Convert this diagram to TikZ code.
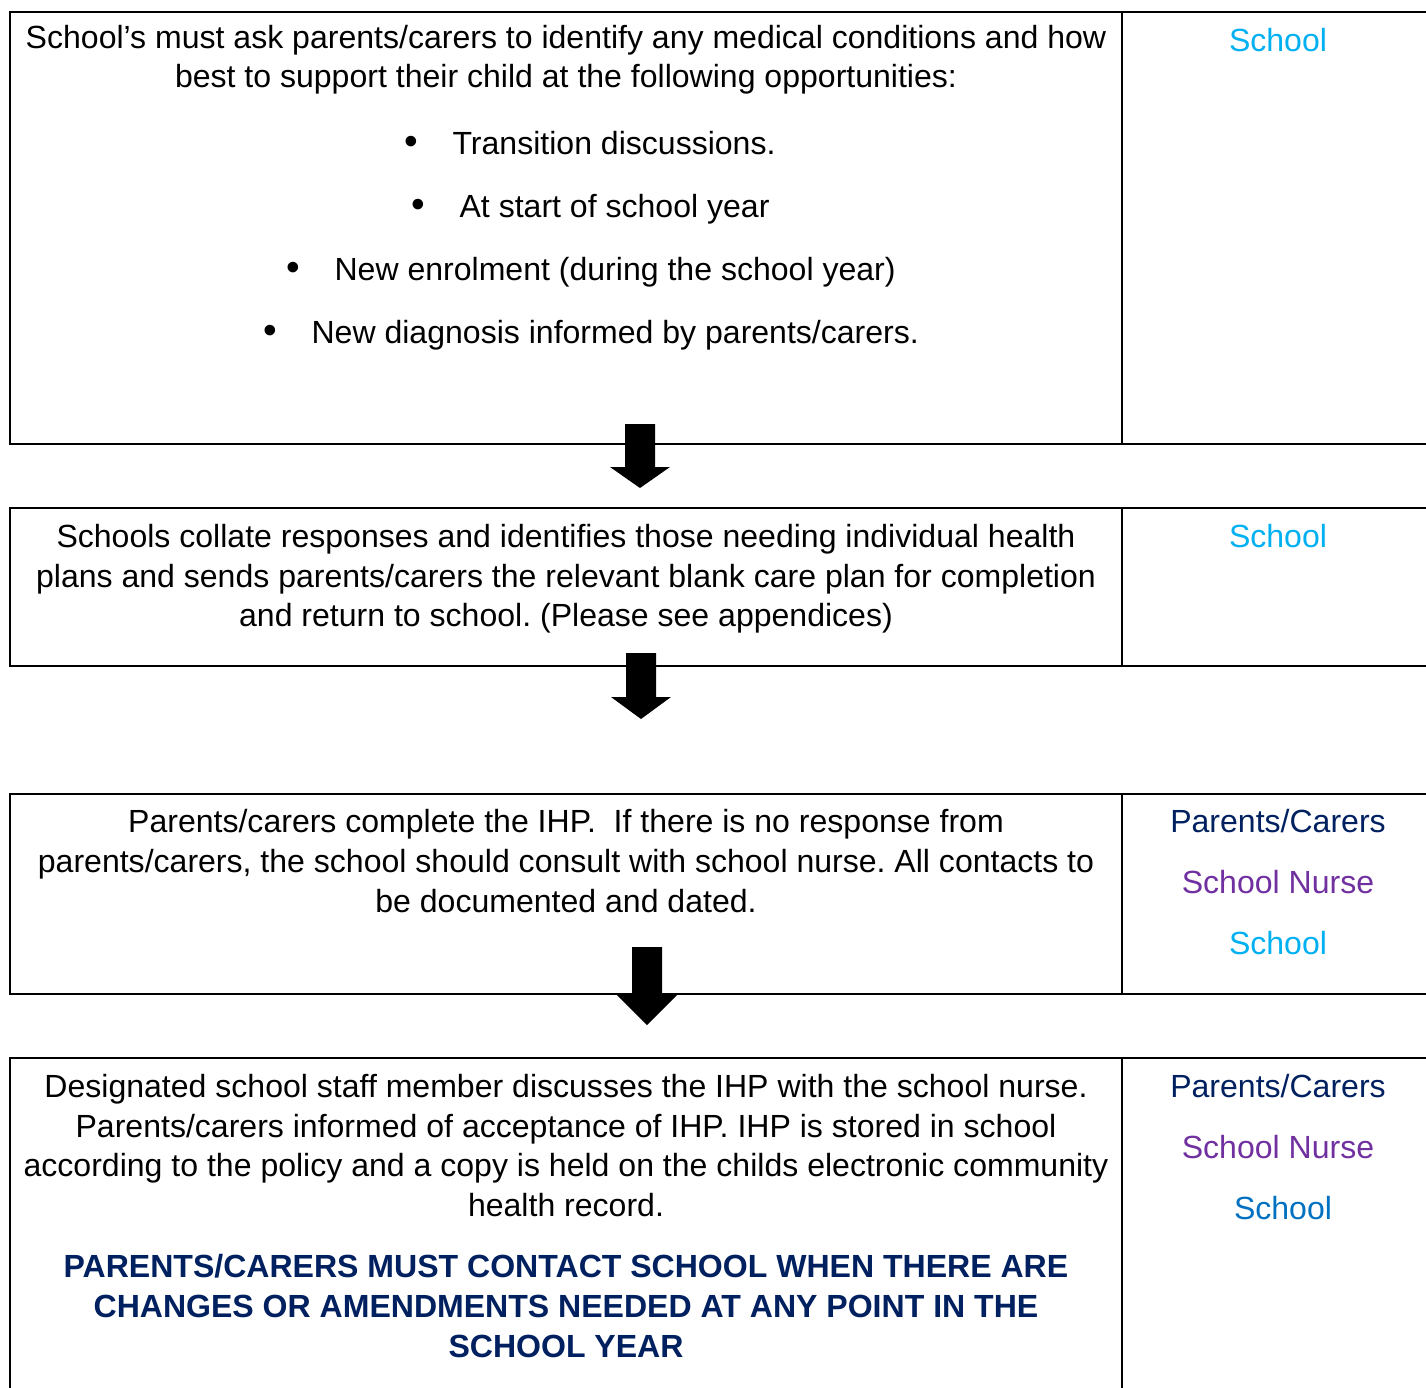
\documentclass[tikz,border=0pt]{standalone}
\usepackage{fontspec}
\setmainfont{Liberation Sans}
\usepackage{tikz}
\usetikzlibrary{calc, positioning}
\usepackage{xcolor}
\definecolor{schoolCyan}{RGB}{0,176,240}
\definecolor{schoolBlue}{RGB}{0,112,192}
\definecolor{parentNavy}{RGB}{0,32,96}
\definecolor{nursePurple}{RGB}{112,48,160}
\frenchspacing

\begin{document}
\begin{tikzpicture}[x=0.3333pt, y=-0.3333pt, font=\fontsize{10.68}{13}\selectfont,
  frame/.style={line width=0.7pt},
  txt/.style={anchor=base, inner sep=0pt},
  item/.style={anchor=base west, inner sep=0pt},
  dot/.style={anchor=base, inner sep=0pt, font=\fontsize{13}{13}\selectfont},
  shout/.style={txt, parentNavy, font=\fontsize{10.68}{13}\selectfont\bfseries},
  blockarrow/.style={fill=black}]
  \useasboundingbox (0,0) rectangle (1426,1387);
  \clip (0,0) rectangle (1426,1387);

  % Table frames (right edge runs off the page)
  \draw[frame] (1440,12) -- (10,12) -- (10,444) -- (1440,444);
  \draw[frame] (1122,12) -- (1122,444);
  \draw[frame] (1440,508) -- (10,508) -- (10,666) -- (1440,666);
  \draw[frame] (1122,508) -- (1122,666);
  \draw[frame] (1440,794) -- (10,794) -- (10,994) -- (1440,994);
  \draw[frame] (1122,794) -- (1122,994);
  \draw[frame] (1440,1058) -- (10,1058) -- (10,1400);
  \draw[frame] (1122,1058) -- (1122,1400);

  % Block arrows between the rows
  \foreach \cx/\top/\neck/\tip in {640/424/467/488, 641/653/697/719, 647/947/995/1025} {
    \fill[blockarrow] (\cx-15,\top) -- (\cx+15,\top) -- (\cx+15,\neck) -- (\cx+30,\neck)
      -- (\cx,\tip) -- (\cx-30,\neck) -- (\cx-15,\neck) -- cycle;
  }

  % Row 1
  \node[txt] (ask1) at (566,48) {School’s must ask parents/carers to identify any medical conditions and how};
  \node[txt] (ask2) at (566,87) {best to support their child at the following opportunities:};
  \node[dot] (dotA) at (411,154) {•};
  \node[item] (itemA) at (452,154) {Transition discussions.};
  \node[dot] (dotB) at (418,217) {•};
  \node[item] (itemB) at (459,217) {At start of school year};
  \node[dot] (dotC) at (293,280) {•};
  \node[item] (itemC) at (334,280) {New enrolment (during the school year)};
  \node[dot] (dotD) at (270,343) {•};
  \node[item] (itemD) at (311,343) {New diagnosis informed by parents/carers.};
  \node[txt, schoolCyan] (who1) at (1278,51) {School};

  % Row 2
  \node[txt] (coll1) at (566,547) {Schools collate responses and identifies those needing individual health};
  \node[txt] (coll2) at (566,587) {plans and sends parents/carers the relevant blank care plan for completion};
  \node[txt] (coll3) at (566,626) {and return to school. (Please see appendices)};
  \node[txt, schoolCyan] (who2) at (1278,547) {School};

  % Row 3
  \node[txt] (ihp1) at (566,832) {Parents/carers complete the IHP.\ \ If there is no response from};
  \node[txt] (ihp2) at (566,872) {parents/carers, the school should consult with school nurse. All contacts to};
  \node[txt] (ihp3) at (566,912) {be documented and dated.};
  \node[txt, parentNavy] (who3a) at (1278,832) {Parents/Carers};
  \node[txt, nursePurple] (who3b) at (1278,893) {School Nurse};
  \node[txt, schoolCyan] (who3c) at (1278,954) {School};

  % Row 4
  \node[txt] (staff1) at (566,1097) {Designated school staff member discusses the IHP with the school nurse.};
  \node[txt] (staff2) at (566,1137) {Parents/carers informed of acceptance of IHP. IHP is stored in school};
  \node[txt] (staff3) at (566,1176) {according to the policy and a copy is held on the childs electronic community};
  \node[txt] (staff4) at (566,1216) {health record.};
  \node[shout] (must1) at (566,1277) {PARENTS/CARERS MUST CONTACT SCHOOL WHEN THERE ARE};
  \node[shout] (must2) at (566,1317) {CHANGES OR AMENDMENTS NEEDED AT ANY POINT IN THE};
  \node[shout] (must3) at (566,1357) {SCHOOL YEAR};
  \node[txt, parentNavy] (who4a) at (1278,1097) {Parents/Carers};
  \node[txt, nursePurple] (who4b) at (1278,1158) {School Nurse};
  \node[txt, schoolBlue] (who4c) at (1283,1219) {School};
\end{tikzpicture}
\end{document}
